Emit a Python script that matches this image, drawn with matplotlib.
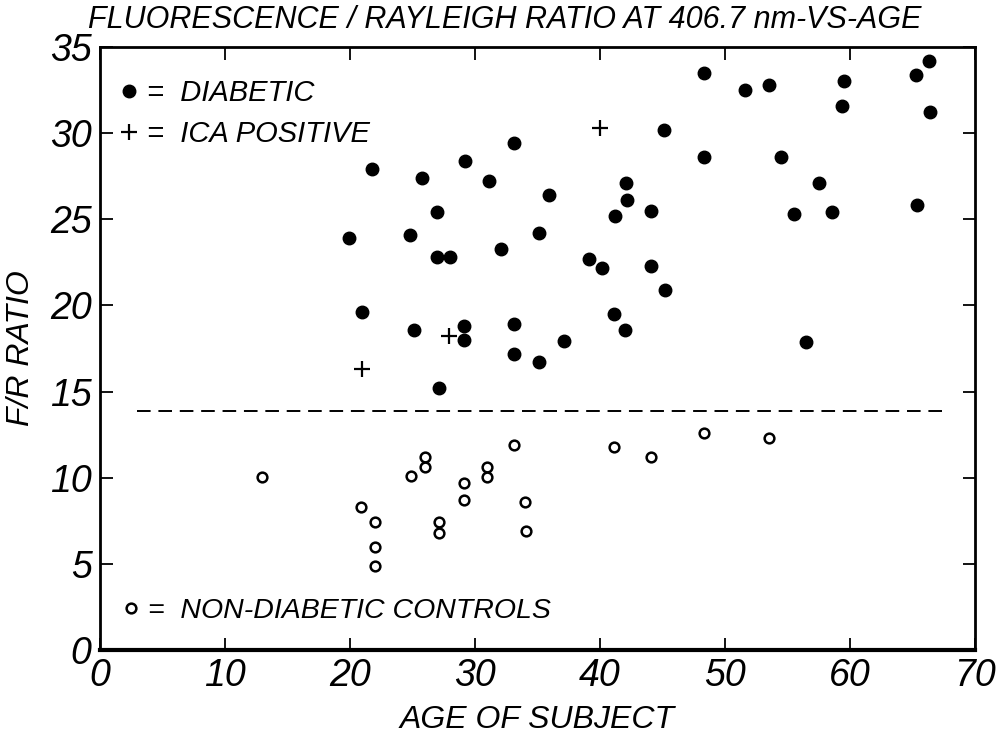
import matplotlib
matplotlib.use("Agg")
import matplotlib.pyplot as plt
from matplotlib.lines import Line2D

plt.rcParams['font.family'] = ['Liberation Sans', 'DejaVu Sans']

# diabetic subjects (filled dots)
diab_age = [19.9, 21.0, 21.8, 24.8, 25.1, 25.8, 27.0, 27.0, 28.0, 27.1,
            29.2, 29.1, 29.1, 31.1, 32.1, 33.1, 33.1, 33.1, 35.1, 35.1,
            35.9, 37.1, 39.1, 40.2, 41.1, 41.2, 42.0, 42.1, 42.2, 44.1,
            44.1, 45.1, 45.2, 48.3, 48.3, 51.6, 53.5, 54.5, 55.5, 56.5,
            57.5, 58.6, 59.4, 59.5, 65.3, 65.4, 66.3, 66.4]
diab_ratio = [23.9, 19.6, 27.9, 24.1, 18.6, 27.4, 25.4, 22.8, 22.8, 15.2,
              28.4, 18.8, 18.0, 27.2, 23.3, 29.4, 18.9, 17.2, 24.2, 16.7,
              26.4, 17.95, 22.7, 22.2, 19.5, 25.2, 18.6, 27.1, 26.1, 25.5,
              22.3, 30.2, 20.9, 33.5, 28.6, 32.5, 32.8, 28.6, 25.3, 17.9,
              27.1, 25.4, 31.6, 33.0, 33.4, 25.8, 34.2, 31.2]

# ICA positive (plus signs)
ica_age = [21.0, 27.9, 40.0]
ica_ratio = [16.3, 18.2, 30.3]

# non-diabetic controls (open circles)
ctrl_age = [13.0, 20.9, 22.0, 22.0, 22.0, 24.9, 26.0, 26.0, 27.1, 27.1,
            29.1, 29.1, 31.0, 31.0, 33.1, 34.0, 34.1, 41.1, 44.1, 48.3, 53.5]
ctrl_ratio = [10.06, 8.3, 7.4, 6.0, 4.9, 10.1, 11.2, 10.6, 7.4, 6.8,
              9.7, 8.7, 10.6, 10.06, 11.9, 8.6, 6.9, 11.8, 11.2, 12.6, 12.3]

# dividing line
cutoff = 13.9
cutoff_span = [3.0, 67.4]

x_ticks = [0, 10, 20, 30, 40, 50, 60, 70]
y_ticks = [0, 5, 10, 15, 20, 25, 30, 35]

fig = plt.figure(figsize=(10.05, 7.42), dpi=100)
ax = fig.add_axes([0.0995, 0.124, 0.8705, 0.8127])

ax.plot(diab_age, diab_ratio, 'o', color='black', markersize=9, linestyle='none')
ax.plot(ica_age, ica_ratio, '+', color='black', markersize=11, mew=1.6, linestyle='none')
ax.plot(ctrl_age, ctrl_ratio, 'o', markerfacecolor='white', markeredgecolor='black',
        markersize=7, mew=1.8, linestyle='none')
ax.plot(cutoff_span, [cutoff, cutoff], color='black', lw=1.4, dashes=(7, 4))

ax.set_xlim(0, 70)
ax.set_ylim(0, 35)
ax.set_xticks(x_ticks)
ax.set_yticks(y_ticks)
ax.tick_params(direction='in', length=9, width=1.3, top=True, right=True,
               labelsize=27, pad=6)
for lab in ax.get_xticklabels() + ax.get_yticklabels():
    lab.set_fontstyle('italic')
for side in ['left', 'right', 'top']:
    ax.spines[side].set_linewidth(2)
ax.spines['bottom'].set_linewidth(3)

# legend keys
top_handles = [Line2D([], [], marker='o', color='black', markersize=9, linestyle='none'),
               Line2D([], [], marker='+', color='black', markersize=11, mew=1.6, linestyle='none')]
leg1 = ax.legend(top_handles, ['=  DIABETIC', '=  ICA POSITIVE'], loc='upper left',
                 bbox_to_anchor=(0.02, 0.947), frameon=False, handletextpad=0.2,
                 handlelength=0.8, borderaxespad=0, borderpad=0, labelspacing=0.45,
                 prop={'size': 21, 'style': 'italic'})
ax.add_artist(leg1)
bot_handles = [Line2D([], [], marker='o', markerfacecolor='white', markeredgecolor='black',
                      markersize=7, mew=1.8, linestyle='none')]
ax.legend(bot_handles, ['=  NON-DIABETIC CONTROLS'], loc='lower left',
          bbox_to_anchor=(0.022, 0.043), frameon=False, handletextpad=0.2,
          handlelength=0.8, borderaxespad=0, borderpad=0,
          prop={'size': 20.5, 'style': 'italic'})

fig.text(88 / 1005, 1 - 20 / 742, 'FLUORESCENCE / RAYLEIGH RATIO AT 406.7 nm-VS-AGE',
         ha='left', va='center', fontsize=22, fontstyle='italic')
ax.set_xlabel('AGE OF SUBJECT', fontsize=23, fontstyle='italic', labelpad=8)
ax.set_ylabel('F/R RATIO', fontsize=23, fontstyle='italic', labelpad=10)

fig.savefig('out.png', dpi=100)
